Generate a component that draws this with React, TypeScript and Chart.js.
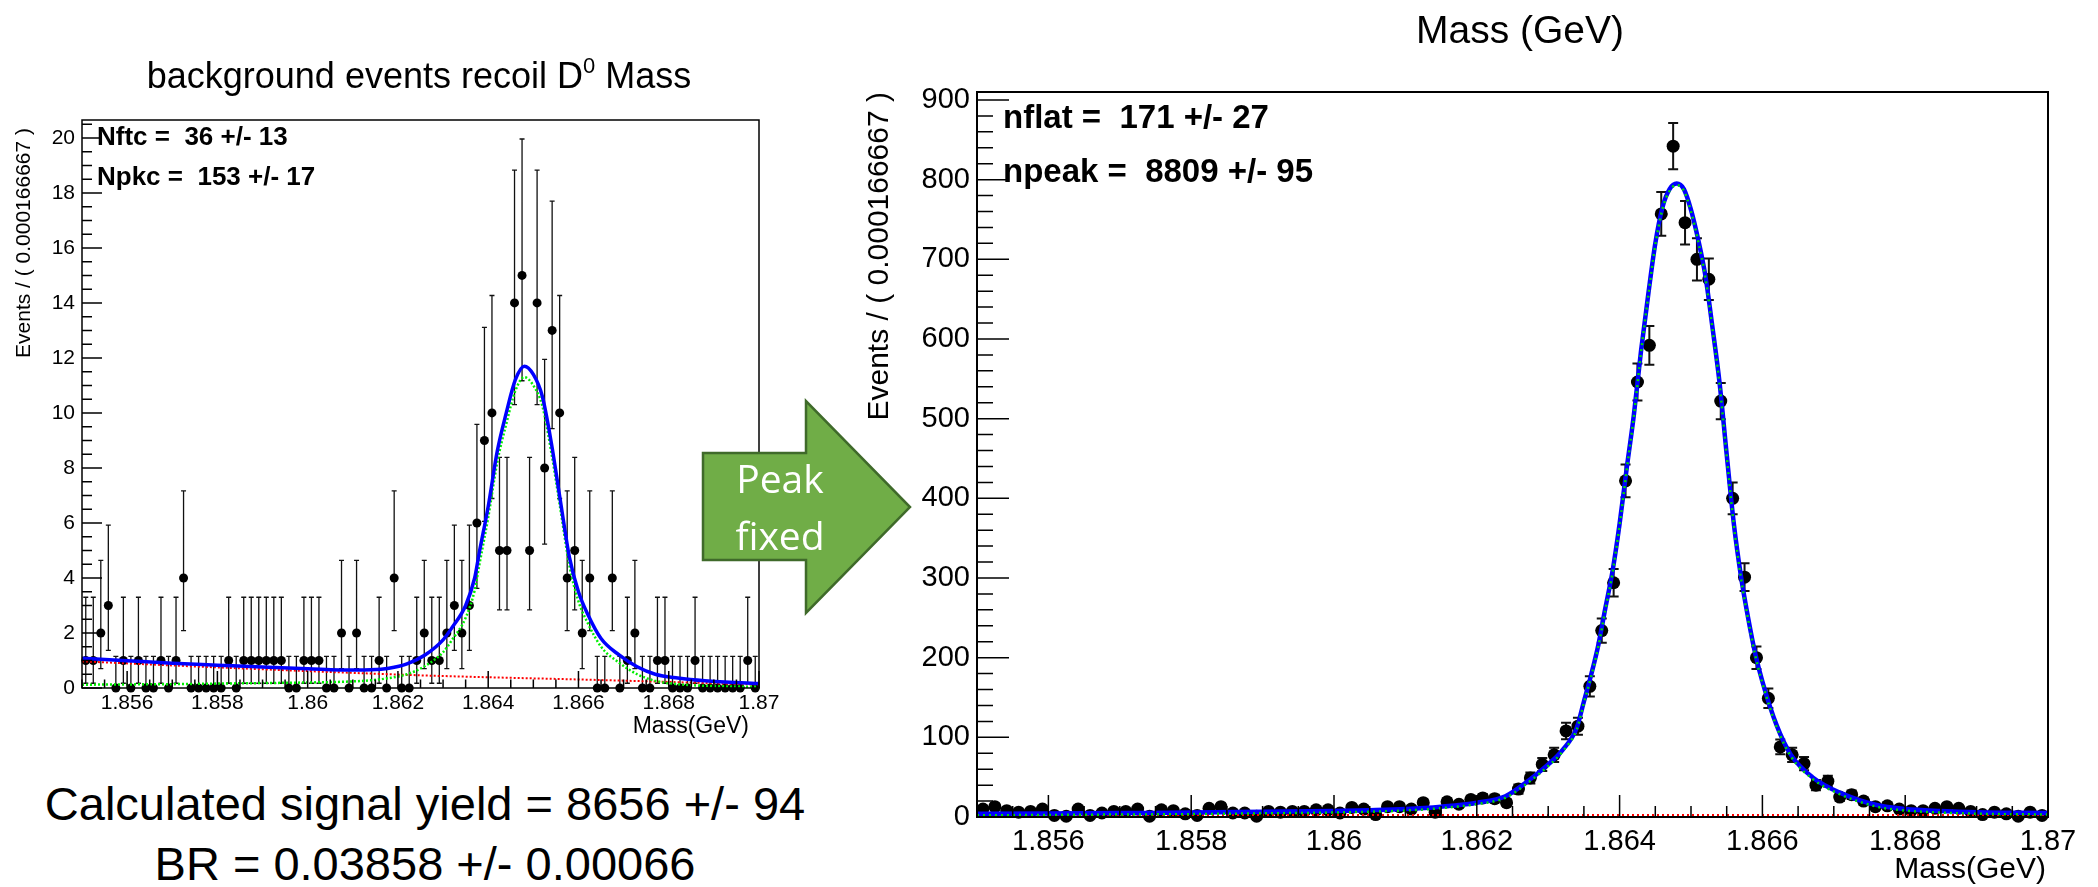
import React, { useEffect, useRef } from 'react';
import { Chart, registerables } from 'chart.js';
Chart.register(...registerables);

const FONT = "'Liberation Sans', Arial, Helvetica, sans-serif";

// ---------- shared mass axis ----------
const massMin = 1.855;
const massMax = 1.87;
const nBins = 90;
const binWidth = (massMax - massMin) / nBins;
const xTickValues = [1.856, 1.858, 1.86, 1.862, 1.864, 1.866, 1.868, 1.87];
const xTickLabels = ['1.856', '1.858', '1.86', '1.862', '1.864', '1.866', '1.868', '1.87'];

// ---------- left panel: background events ----------
const leftCounts = [
  1, 1, 2, 3, 0, 1, 0, 1, 0, 0, 1, 0, 1, 4,
  0, 0, 0, 0, 0, 1, 0, 1, 1, 1, 1, 1, 1, 0, 0, 1, 1, 1, 0, 0,
  2, 0, 2, 0, 0, 1, 0, 4, 0, 0, 1, 2, 1, 1, 2, 3, 2, 3,
  6, 9, 10, 5, 5, 14, 15, 5, 14, 8, 13, 10, 4, 5, 2, 4,
  0, 0, 4, 0, 1, 2, 0, 0, 1, 1, 0, 0, 0, 1, 0, 0, 0, 0, 0, 0, 1, 0,
];
// 68% Poisson interval edges, indexed by bin count
const poissonLow = [0, 0.173, 0.708, 1.367, 2.086, 2.84, 3.62, 4.42, 5.23, 6.06, 6.89, 7.73, 8.58, 9.43, 10.3, 11.17];
const poissonHigh = [1.148, 3.3, 4.638, 5.918, 7.163, 8.382, 9.584, 10.77, 11.95, 13.11, 14.27, 15.42, 16.56, 17.7, 18.83, 19.96];
const leftYTicks = [0, 2, 4, 6, 8, 10, 12, 14, 16, 18, 20];
const leftYTickLabels = ['0', '2', '4', '6', '8', '10', '12', '14', '16', '18', '20'];
const leftYMax = 20.65;

const leftCurveX = [1.855, 1.856, 1.857, 1.858, 1.859, 1.86, 1.861, 1.8614, 1.8618, 1.8622, 1.8626, 1.863, 1.8632, 1.8635, 1.8637, 1.8638, 1.864, 1.8642, 1.8644, 1.8646, 1.8648, 1.865, 1.8652, 1.8654, 1.8656, 1.8658, 1.866, 1.8662, 1.8665, 1.8669, 1.8673, 1.8677, 1.8682, 1.8688, 1.87];
const leftTotalY = [1.08, 0.99, 0.9, 0.83, 0.76, 0.7, 0.65, 0.66, 0.72, 0.88, 1.2, 1.75, 2.2, 3.0, 4.0, 4.9, 6.6, 8.6, 10.0, 11.2, 11.7, 11.4, 10.6, 8.9, 6.8, 4.75, 3.5, 2.7, 1.8, 1.2, 0.77, 0.5, 0.36, 0.26, 0.16];
const leftSignalY = [0.12, 0.13, 0.14, 0.16, 0.18, 0.2, 0.24, 0.28, 0.36, 0.5, 0.8, 1.3, 1.75, 2.55, 3.55, 4.45, 6.2, 8.2, 9.6, 10.8, 11.3, 11.0, 10.25, 8.55, 6.5, 4.45, 3.15, 2.38, 1.5, 0.92, 0.5, 0.26, 0.14, 0.08, 0.04];
const leftBkgX = [1.855, 1.857, 1.859, 1.861, 1.8625, 1.864, 1.866, 1.868, 1.87];
const leftBkgY = [0.97, 0.82, 0.68, 0.55, 0.46, 0.39, 0.31, 0.22, 0.12];

// ---------- right panel: peak fixed ----------
const rightCounts = [
  10, 13, 8, 6, 7, 10, 2, 1, 10, 2, 5, 7, 7, 10, 1, 9, 8, 4, 2, 11, 13, 5,
  5, 1, 7, 6, 7, 7, 9, 9, 5, 12, 10, 3, 13, 13, 10, 18, 6, 19, 16, 22, 24, 23,
  18, 35, 49, 66, 78, 108, 114, 164, 234, 294,
  422, 546, 592, 757, 842, 746, 700, 675, 522,
  400, 301, 200, 149, 88, 78, 67, 40, 45, 25, 28, 20, 13, 14,
  10, 8, 8, 11, 13, 11, 7, 3, 6, 4, 1, 6, 2,
];
const rightYTicks = [0, 100, 200, 300, 400, 500, 600, 700, 800, 900];
const rightYTickLabels = ['0', '100', '200', '300', '400', '500', '600', '700', '800', '900'];
const rightYMax = 910;

const rightCurveX = [1.855, 1.856, 1.857, 1.858, 1.859, 1.86, 1.8605, 1.861, 1.8615, 1.862, 1.8624, 1.8627, 1.863, 1.8632, 1.8634, 1.8635, 1.8636, 1.8637, 1.8638, 1.8639, 1.864, 1.8641, 1.8642, 1.8643, 1.8644, 1.8645, 1.8646, 1.8647, 1.8648, 1.8649, 1.865, 1.8651, 1.8652, 1.8653, 1.8654, 1.8655, 1.8656, 1.8657, 1.8658, 1.8659, 1.866, 1.8662, 1.8664, 1.8667, 1.8671, 1.8676, 1.868, 1.8685, 1.869, 1.87];
const rightTotalY = [4, 4.5, 5, 5.5, 6.5, 7.5, 8.5, 10, 13, 18, 26, 44, 66, 84, 112, 145, 178, 215, 262, 308, 368, 438, 505, 585, 655, 720, 765, 788, 795, 788, 762, 725, 680, 615, 545, 455, 368, 302, 250, 205, 170, 115, 78, 50, 30, 15, 10, 7.5, 6, 5];
const rightSignalY = [2.1, 2.6, 3.1, 3.6, 4.6, 5.6, 6.6, 8.1, 11.1, 16.1, 24.1, 42, 64, 82, 110, 143, 176, 213, 260, 306, 366, 436, 503, 583, 653, 718, 763, 786, 793, 786, 760, 723, 678, 613, 543, 453, 366, 300, 248, 203, 168, 113, 76, 48, 28, 13, 8.1, 5.6, 4.1, 3.1];
const rightFlatX = [1.855, 1.87];
const rightFlatY = [1.9, 1.9];

type Curve = { xs: number[]; ys: number[]; color: string; width: number; dash: number[]; order: number };

interface PanelSpec {
  counts: number[];
  errLow: number[];
  errHigh: number[];
  curves: Curve[];
  yMax: number;
  yTicks: number[];
  yTickLabels: string[];
  yMinorStep: number;
  xMinorStep: number;
  dotRadius: number;
  tickFont: number;
  xTickLen: number;
  yTickLen: number;
  frameWidth: number;
  yScaleWidth: number;
  xScaleHeight: number;
  padding: { left: number; right: number; top: number; bottom: number };
  xLabelPad: number;
  yLabelPad: number;
  capHalf: number;
  barWidth: number;
  xErrBars: boolean;
  yTitle: string;
  yTitleFont: number;
  yTitleX: number;
  yTitleEndOffset: number;
  xTitle: string;
  xTitleFont: number;
  xTitleRight: number;
  xTitleY: number;
}

function makeChart(canvas: HTMLCanvasElement, s: PanelSpec) {
  const centers = s.counts.map((_, i) => massMin + (i + 0.5) * binWidth);
  const datasets: any[] = s.curves.map((c) => ({
    type: 'scatter',
    data: c.xs.map((x, i) => ({ x, y: c.ys[i] })),
    showLine: true,
    borderColor: c.color,
    borderWidth: c.width,
    borderDash: c.dash,
    borderCapStyle: 'butt',
    pointRadius: 0,
    cubicInterpolationMode: 'monotone',
    fill: false,
    order: c.order,
    clip: false,
  }));
  datasets.push({
    type: 'scatter',
    data: centers.map((x, i) => ({ x, y: s.counts[i] })),
    pointRadius: s.dotRadius,
    pointBackgroundColor: '#000',
    pointBorderColor: '#000',
    pointBorderWidth: 0,
    showLine: false,
    order: 10,
    clip: false,
  });

  const plugin = {
    id: 'rootFrame',
    beforeDatasetsDraw(chart: any) {
      const { ctx, scales } = chart;
      const x = scales.x;
      const y = scales.y;
      ctx.save();
      ctx.strokeStyle = '#111';
      ctx.lineWidth = s.barWidth;
      ctx.beginPath();
      for (let i = 0; i < centers.length; i++) {
        const px = x.getPixelForValue(centers[i]);
        const pl = y.getPixelForValue(s.errLow[i]);
        const ph = y.getPixelForValue(s.errHigh[i]);
        ctx.moveTo(px, pl);
        ctx.lineTo(px, ph);
        ctx.moveTo(px - s.capHalf, ph);
        ctx.lineTo(px + s.capHalf, ph);
        if (s.errLow[i] > 0) {
          ctx.moveTo(px - s.capHalf, pl);
          ctx.lineTo(px + s.capHalf, pl);
        }
        if (s.xErrBars) {
          const pv = y.getPixelForValue(s.counts[i]);
          ctx.moveTo(x.getPixelForValue(centers[i] - binWidth / 2), pv);
          ctx.lineTo(x.getPixelForValue(centers[i] + binWidth / 2), pv);
        }
      }
      ctx.stroke();
      ctx.restore();
    },
    afterDraw(chart: any) {
      const { ctx, chartArea: a, scales } = chart;
      const x = scales.x;
      const y = scales.y;
      ctx.save();
      ctx.strokeStyle = '#000';
      ctx.lineWidth = s.frameWidth;
      ctx.strokeRect(a.left, a.top, a.right - a.left, a.bottom - a.top);
      ctx.lineWidth = 1.5;
      ctx.beginPath();
      // x ticks (inside, pointing up)
      const nx = Math.round((massMax - massMin) / s.xMinorStep);
      for (let k = 0; k <= nx; k++) {
        const v = massMin + k * s.xMinorStep;
        const major = xTickValues.some((t) => Math.abs(t - v) < 1e-7);
        const px = x.getPixelForValue(v);
        ctx.moveTo(px, a.bottom);
        ctx.lineTo(px, a.bottom - (major ? s.xTickLen : s.xTickLen / 2));
      }
      // y ticks (inside, pointing right)
      const ny = Math.floor(s.yMax / s.yMinorStep + 1e-6);
      for (let k = 0; k <= ny; k++) {
        const v = k * s.yMinorStep;
        const major = s.yTicks.some((t) => Math.abs(t - v) < 1e-7);
        const py = y.getPixelForValue(v);
        ctx.moveTo(a.left, py);
        ctx.lineTo(a.left + (major ? s.yTickLen : s.yTickLen / 2), py);
      }
      ctx.stroke();
      // axis titles
      ctx.fillStyle = '#000';
      ctx.font = `${s.yTitleFont}px ${FONT}`;
      ctx.translate(s.yTitleX, a.top + s.yTitleEndOffset);
      ctx.rotate(-Math.PI / 2);
      ctx.textAlign = 'right';
      ctx.textBaseline = 'middle';
      ctx.fillText(s.yTitle, 0, 0);
      ctx.setTransform(1, 0, 0, 1, 0, 0);
      ctx.font = `${s.xTitleFont}px ${FONT}`;
      ctx.textAlign = 'right';
      ctx.textBaseline = 'middle';
      ctx.fillText(s.xTitle, s.xTitleRight, s.xTitleY);
      ctx.restore();
    },
  };

  return new Chart(canvas, {
    type: 'scatter',
    data: { datasets },
    options: {
      animation: false,
      responsive: false,
      maintainAspectRatio: false,
      devicePixelRatio: 1,
      events: [],
      layout: { padding: s.padding },
      plugins: { legend: { display: false }, title: { display: false }, tooltip: { enabled: false } },
      scales: {
        x: {
          type: 'linear',
          min: massMin,
          max: massMax,
          grid: { display: false, drawTicks: false },
          border: { display: false },
          afterFit: (sc: any) => { sc.height = s.xScaleHeight; },
          afterBuildTicks: (sc: any) => { sc.ticks = xTickValues.map((v) => ({ value: v })); },
          ticks: {
            autoSkip: false,
            maxRotation: 0,
            minRotation: 0,
            padding: s.xLabelPad,
            color: '#000',
            font: { family: FONT, size: s.tickFont },
            callback: (_v: any, i: number) => xTickLabels[i],
          },
        },
        y: {
          type: 'linear',
          min: 0,
          max: s.yMax,
          grid: { display: false, drawTicks: false },
          border: { display: false },
          afterFit: (sc: any) => { sc.width = s.yScaleWidth; },
          afterBuildTicks: (sc: any) => { sc.ticks = s.yTicks.map((v) => ({ value: v })); },
          ticks: {
            autoSkip: false,
            padding: s.yLabelPad,
            color: '#000',
            font: { family: FONT, size: s.tickFont },
            callback: (_v: any, i: number) => s.yTickLabels[i],
          },
        },
      },
    } as any,
    plugins: [plugin],
  });
}

const leftSpec: PanelSpec = {
  counts: leftCounts,
  errLow: leftCounts.map((n) => poissonLow[n]),
  errHigh: leftCounts.map((n) => poissonHigh[n]),
  curves: [
    { xs: leftBkgX, ys: leftBkgY, color: '#ff0000', width: 2, dash: [2, 2], order: 3 },
    { xs: leftCurveX, ys: leftSignalY, color: '#00ee00', width: 2.5, dash: [2, 2], order: 2 },
    { xs: leftCurveX, ys: leftTotalY, color: '#0000ff', width: 3.5, dash: [], order: 1 },
  ],
  yMax: leftYMax,
  yTicks: leftYTicks,
  yTickLabels: leftYTickLabels,
  yMinorStep: 0.5,
  xMinorStep: 0.0005,
  dotRadius: 4.5,
  tickFont: 21,
  xTickLen: 17,
  yTickLen: 20,
  frameWidth: 1.5,
  yScaleWidth: 82,
  xScaleHeight: 72,
  padding: { left: 0, right: 41, top: 120, bottom: 0 },
  xLabelPad: 3,
  yLabelPad: 7,
  capHalf: 2.5,
  barWidth: 1.3,
  xErrBars: false,
  yTitle: 'Events / ( 0.000166667 )',
  yTitleFont: 21,
  yTitleX: 24,
  yTitleEndOffset: 8,
  xTitle: 'Mass(GeV)',
  xTitleFont: 23,
  xTitleRight: 749,
  xTitleY: 727,
};

const rightSpec: PanelSpec = {
  counts: rightCounts,
  errLow: rightCounts.map((v) => v - Math.sqrt(v)),
  errHigh: rightCounts.map((v) => v + Math.sqrt(v)),
  curves: [
    { xs: rightFlatX, ys: rightFlatY, color: '#ff0000', width: 3, dash: [2, 3], order: 3 },
    { xs: rightCurveX, ys: rightTotalY, color: '#0000ff', width: 4.5, dash: [], order: 2 },
    { xs: rightCurveX, ys: rightSignalY, color: '#00dd00', width: 2.5, dash: [2, 4], order: 1 },
  ],
  yMax: rightYMax,
  yTicks: rightYTicks,
  yTickLabels: rightYTickLabels,
  yMinorStep: 20,
  xMinorStep: 0.0005,
  dotRadius: 6.5,
  tickFont: 29,
  xTickLen: 22,
  yTickLen: 32,
  frameWidth: 2,
  yScaleWidth: 117,
  xScaleHeight: 70,
  padding: { left: 0, right: 50, top: 92, bottom: 0 },
  xLabelPad: 8,
  yLabelPad: 7,
  capHalf: 5,
  barWidth: 2,
  xErrBars: true,
  yTitle: 'Events / ( 0.000166667 )',
  yTitleFont: 30,
  yTitleX: 20,
  yTitleEndOffset: 0,
  xTitle: 'Mass(GeV)',
  xTitleFont: 30,
  xTitleRight: 1186,
  xTitleY: 870,
};

const abs = (left: number, top: number, extra: React.CSSProperties = {}): React.CSSProperties => ({
  position: 'absolute',
  left,
  top,
  whiteSpace: 'pre',
  lineHeight: 1,
  color: '#000',
  fontFamily: FONT,
  ...extra,
});

export default function App() {
  const leftRef = useRef<HTMLCanvasElement>(null);
  const rightRef = useRef<HTMLCanvasElement>(null);

  useEffect(() => {
    const c1 = makeChart(leftRef.current as HTMLCanvasElement, leftSpec);
    const c2 = makeChart(rightRef.current as HTMLCanvasElement, rightSpec);
    return () => {
      c1.destroy();
      c2.destroy();
    };
  }, []);

  return (
    <div style={{ position: 'absolute', left: 0, top: 0, width: 2098, height: 887, background: '#fff', overflow: 'hidden' }}>
      <canvas ref={leftRef} width={800} height={760} style={{ position: 'absolute', left: 0, top: 0, width: 800, height: 760 }} />
      <canvas ref={rightRef} width={1238} height={887} style={{ position: 'absolute', left: 860, top: 0, width: 1238, height: 887 }} />

      <div style={abs(419, 76, { fontSize: 36, transform: 'translate(-50%, -50%)' })}>
        background events recoil D<span style={{ fontSize: 22, position: 'relative', top: -15 }}>0</span> Mass
      </div>
      <div style={abs(97, 136, { fontSize: 26, fontWeight: 'bold', transform: 'translateY(-50%)' })}>{'Nftc =  36 +/- 13'}</div>
      <div style={abs(97, 176, { fontSize: 26, fontWeight: 'bold', transform: 'translateY(-50%)' })}>{'Npkc =  153 +/- 17'}</div>

      <div style={abs(1520, 29, { fontSize: 39, transform: 'translate(-50%, -50%)' })}>Mass (GeV)</div>
      <div style={abs(1003, 116, { fontSize: 33, fontWeight: 'bold', transform: 'translateY(-50%)' })}>{'nflat =  171 +/- 27'}</div>
      <div style={abs(1003, 170, { fontSize: 33, fontWeight: 'bold', transform: 'translateY(-50%)' })}>{'npeak =  8809 +/- 95'}</div>

      <div style={abs(425, 803, { fontSize: 47, transform: 'translate(-50%, -50%)' })}>Calculated signal yield = 8656 +/- 94</div>
      <div style={abs(425, 863, { fontSize: 47, transform: 'translate(-50%, -50%)' })}>BR = 0.03858 +/- 0.00066</div>

      <svg width={2098} height={887} style={{ position: 'absolute', left: 0, top: 0, pointerEvents: 'none' }}>
        <polygon points="703,453 806,453 806,401 910,507 806,613 806,560 703,560" fill="#70AD47" stroke="#3F6A2A" strokeWidth={2.5} strokeLinejoin="miter" />
        <text x={780} y={493} textAnchor="middle" fill="#fff" fontFamily="'Open Sans', 'Noto Sans', sans-serif" fontSize={39}>Peak</text>
        <text x={780} y={550} textAnchor="middle" fill="#fff" fontFamily="'Open Sans', 'Noto Sans', sans-serif" fontSize={39}>fixed</text>
      </svg>
    </div>
  );
}
